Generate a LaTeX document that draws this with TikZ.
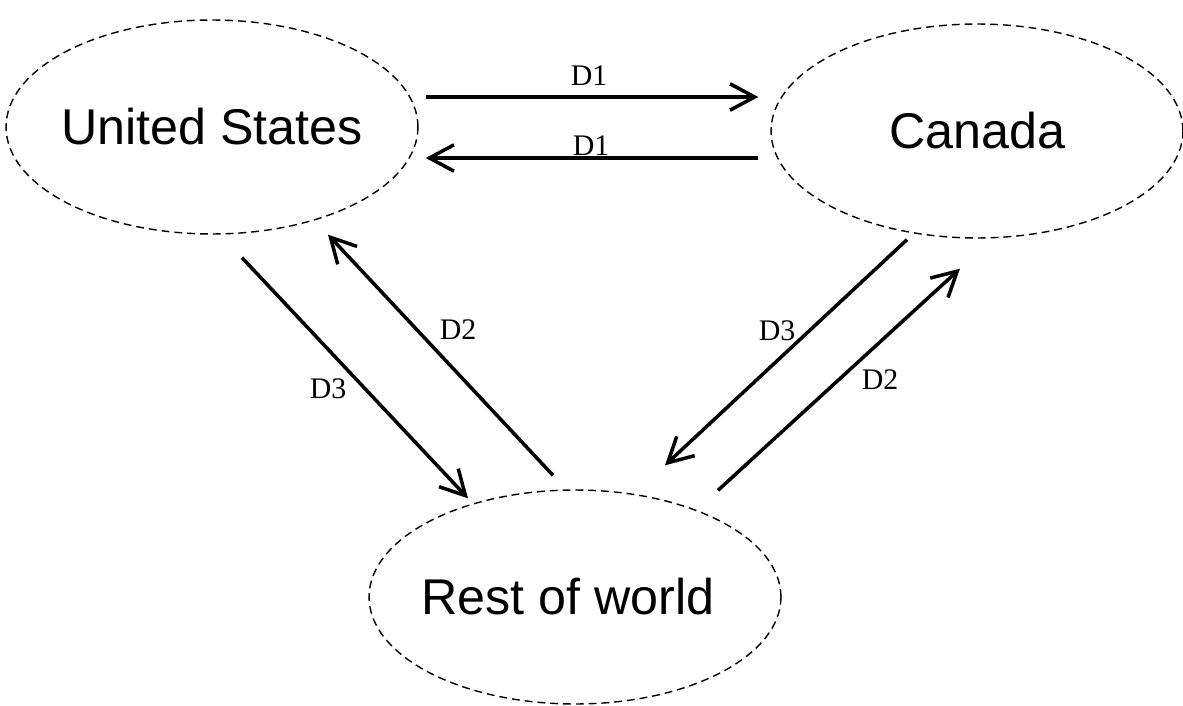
\documentclass[tikz,border=0pt]{standalone}
\usepackage{fontspec}
\setmainfont{Liberation Serif}
\newfontfamily\arialfont{Liberation Sans}
\usetikzlibrary{arrows.meta,shapes.geometric,calc}

\begin{document}
\begin{tikzpicture}[x=0.02cm,y=-0.02cm,>={Straight Barb[length=14pt,width=15pt]},
  region/.style={ellipse,draw,dash pattern=on 4.5pt off 2.8pt,line width=0.8pt,
    minimum width=8.24cm,minimum height=4.28cm,inner sep=-2cm,
    font=\arialfont\fontsize{28.6}{34}\selectfont},
  flow/.style={->,line width=2pt},
  lbl/.style={inner sep=0pt,font=\fontsize{17}{20}\selectfont}]
\useasboundingbox (0,0) rectangle (1183,706);
\node[region] (us) at (212,127) {United States};
\node[region] (ca) at (977,131) {Canada};
\node[region] (row) at (575,597) {Rest of world\kern0.28cm};
%
\draw[flow] ($(us.east)+(7,-30)$) -- ($(ca.west)+(-12,-34)$);
\draw[flow] ($(ca.west)+(-12,27)$) -- ($(us.east)+(7,31)$);
\node[lbl] (d1a) at (589,76) {D1};
\node[lbl] (d1b) at (591,146) {D1};
%
\draw[flow] ($(us.south)+(30,23)$) -- ($(row.north)+(-107,9)$);
\draw[flow] ($(row.north)+(-22,-14)$) -- ($(us.south)+(116,0)$);
\node[lbl] (d3a) at (328,389) {D3};
\node[lbl] (d2a) at (458,330) {D2};
%
\draw[flow] ($(ca.south)+(-70,1)$) -- ($(row.north)+(90,-24)$);
\draw[flow] ($(row.north)+(143,1)$) -- ($(ca.south)+(-17,30)$);
\node[lbl] (d3b) at (777,331) {D3};
\node[lbl] (d2b) at (880,380) {D2};
\end{tikzpicture}
\end{document}
